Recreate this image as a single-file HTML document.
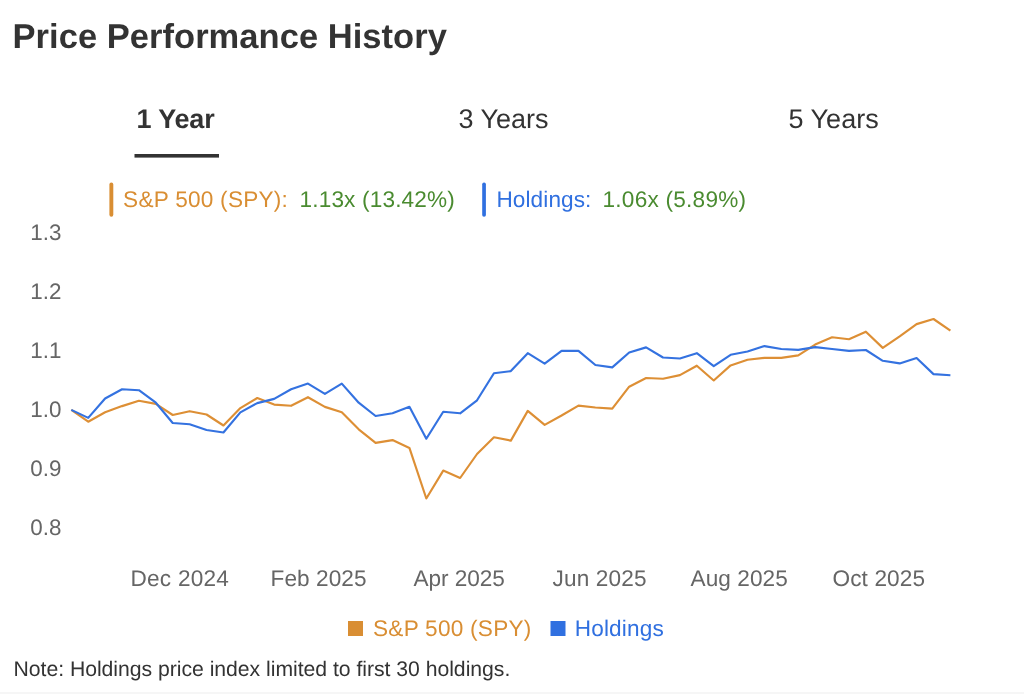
<!DOCTYPE html>
<html><head><meta charset="utf-8"><style>
html,body{margin:0;padding:0;background:#fff;width:1024px;height:694px;overflow:hidden}
svg{display:block;will-change:transform}
text{font-family:"Liberation Sans", sans-serif;text-rendering:geometricPrecision}
</style></head><body>
<svg width="1024" height="694" viewBox="0 0 1024 694">
<rect x="0" y="0" width="1024" height="694" fill="#fff"/>
<rect x="0" y="692" width="1024" height="2" fill="#f6f6f6"/>
<rect x="134.5" y="154" width="84.5" height="3.6" fill="#333"/>
<rect x="109.4" y="182.5" width="3.9" height="34.2" rx="1.9" fill="#d98e33"/>
<rect x="482.2" y="182.5" width="3.7" height="34.2" rx="1.8" fill="#3070e0"/>
<rect x="348" y="621" width="15" height="15" fill="#d98e33"/>
<rect x="550.5" y="621" width="15" height="15" fill="#3070e0"/>
<text x="12.50" y="48" font-size="34.5" font-weight="bold" fill="#333" letter-spacing="0.042">Price Performance History</text>
<text x="136.50" y="127.8" font-size="27" font-weight="bold" fill="#333" letter-spacing="-0.180">1 Year</text>
<text x="458.50" y="127.8" font-size="27" font-weight="normal" fill="#333" letter-spacing="-0.017">3 Years</text>
<text x="788.50" y="127.8" font-size="27" font-weight="normal" fill="#333" letter-spacing="0.017">5 Years</text>
<text x="123.10" y="207.2" font-size="22.6" font-weight="normal" fill="#d98e33" letter-spacing="0.246">S&amp;P 500 (SPY):</text>
<text x="299.50" y="207.2" font-size="22.6" font-weight="normal" fill="#4a8b30" letter-spacing="0.162">1.13x (13.42%)</text>
<text x="496.40" y="207.2" font-size="22.6" font-weight="normal" fill="#3070e0" letter-spacing="0.100">Holdings:</text>
<text x="602.50" y="207.2" font-size="22.6" font-weight="normal" fill="#4a8b30" letter-spacing="0.242">1.06x (5.89%)</text>
<text x="130.50" y="586" font-size="22.6" font-weight="normal" fill="#666" letter-spacing="0.243">Dec 2024</text>
<text x="270.50" y="586" font-size="22.6" font-weight="normal" fill="#666" letter-spacing="0.086">Feb 2025</text>
<text x="413.50" y="586" font-size="22.6" font-weight="normal" fill="#666" letter-spacing="-0.057">Apr 2025</text>
<text x="552.50" y="586" font-size="22.6" font-weight="normal" fill="#666" letter-spacing="0.157">Jun 2025</text>
<text x="690.50" y="586" font-size="22.6" font-weight="normal" fill="#666" letter-spacing="0.071">Aug 2025</text>
<text x="832.50" y="586" font-size="22.6" font-weight="normal" fill="#666" letter-spacing="0.114">Oct 2025</text>
<text x="373.00" y="636" font-size="22.6" font-weight="normal" fill="#d98e33" letter-spacing="0.250">S&amp;P 500 (SPY)</text>
<text x="574.70" y="636" font-size="22.6" font-weight="normal" fill="#3070e0" letter-spacing="0.171">Holdings</text>
<text x="13.50" y="676" font-size="21.2" font-weight="normal" fill="#333" letter-spacing="-0.025">Note: Holdings price index limited to first 30 holdings.</text>
<text x="61.5" y="240.30" font-size="22.4" fill="#666" text-anchor="end">1.3</text>
<text x="61.5" y="299.26" font-size="22.4" fill="#666" text-anchor="end">1.2</text>
<text x="61.5" y="358.22" font-size="22.4" fill="#666" text-anchor="end">1.1</text>
<text x="61.5" y="417.18" font-size="22.4" fill="#666" text-anchor="end">1.0</text>
<text x="61.5" y="476.14" font-size="22.4" fill="#666" text-anchor="end">0.9</text>
<text x="61.5" y="535.10" font-size="22.4" fill="#666" text-anchor="end">0.8</text>
<polyline points="71.30,409.90 88.21,421.70 105.11,412.20 122.02,406.10 138.92,400.80 155.83,403.90 172.73,415.00 189.64,411.20 206.55,414.50 223.45,425.50 240.36,408.10 257.26,398.00 274.17,404.60 291.08,405.80 307.98,397.20 324.89,406.90 341.79,412.20 358.70,429.30 375.60,442.90 392.51,440.10 409.42,447.90 426.32,498.50 443.23,470.60 460.13,478.00 477.04,454.00 493.94,437.30 510.85,440.60 527.76,410.90 544.66,424.90 561.57,415.50 578.47,405.60 595.38,407.50 612.28,408.60 629.19,386.70 646.10,378.00 663.00,378.70 679.91,375.10 696.81,365.70 713.72,380.50 730.62,365.40 747.53,359.80 764.44,357.90 781.34,357.90 798.25,355.40 815.15,344.60 832.06,337.30 848.97,339.20 865.87,331.70 882.78,347.90 899.68,336.30 916.59,324.10 933.49,319.00 950.40,330.70" fill="none" stroke="#dd8f35" stroke-width="2.15" stroke-linejoin="round"/>
<polyline points="71.30,409.90 88.21,417.90 105.11,398.50 122.02,389.30 138.92,390.20 155.83,402.70 172.73,423.00 189.64,424.30 206.55,430.00 223.45,432.50 240.36,412.40 257.26,403.10 274.17,398.90 291.08,389.30 307.98,383.60 324.89,393.80 341.79,383.60 358.70,402.70 375.60,416.00 392.51,413.20 409.42,406.80 426.32,438.70 443.23,411.80 460.13,413.30 477.04,400.30 493.94,373.30 510.85,371.10 527.76,353.20 544.66,363.60 561.57,350.90 578.47,350.90 595.38,365.00 612.28,367.40 629.19,352.50 646.10,347.40 663.00,357.50 679.91,358.50 696.81,353.20 713.72,366.10 730.62,354.80 747.53,351.50 764.44,346.10 781.34,349.00 798.25,349.90 815.15,347.10 832.06,349.00 848.97,350.90 865.87,350.00 882.78,360.80 899.68,363.40 916.59,358.00 933.49,374.10 950.40,375.20" fill="none" stroke="#3472e0" stroke-width="2.15" stroke-linejoin="round"/>
</svg>
</body></html>
